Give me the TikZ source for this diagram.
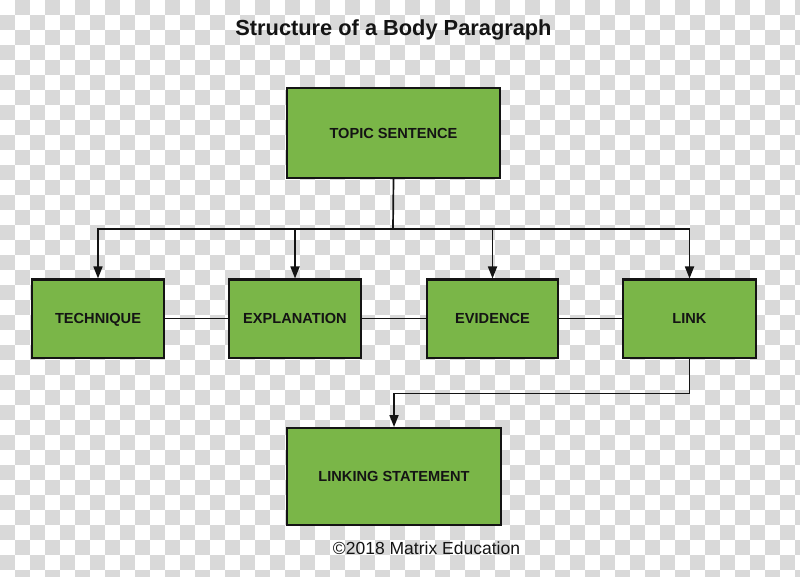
\documentclass[tikz,border=0pt]{standalone}
\usepackage{fontspec}
\setmainfont{Liberation Sans}
\usetikzlibrary{arrows.meta}
\definecolor{checkgray}{RGB}{217,217,217}
\definecolor{boxgreen}{RGB}{122,182,72}
\definecolor{ink}{RGB}{20,20,20}
\tikzset{
  box/.style={draw=ink, line width=2pt, fill=boxgreen, rectangle, inner sep=0pt,
    font=\fontsize{14.6}{17}\selectfont\bfseries, text=ink, text height=10.5pt, text depth=0pt},
  conn/.style={draw=ink, line width=1.7pt},
  arr/.style={conn, -{Triangle[length=12pt,width=9pt]}},
}
\begin{document}
\begin{tikzpicture}[x=1pt,y=-1pt]
\useasboundingbox (0,0) rectangle (800,577);
\begin{scope}
\clip (0,0) rectangle (800,577);
\fill[white] (0,0) rectangle (800,577);
\foreach \i in {0,...,53}{
  \foreach \j in {0,...,38}{
    \pgfmathtruncatemacro\s{mod(\i+\j,2)}
    \ifnum\s=1 \fill[checkgray] (\i*15,\j*15) rectangle ++(15,15); \fi
  }
}
\end{scope}
\node[anchor=base, font=\fontsize{21.8}{25}\selectfont\bfseries, text=ink] (title) at (393.5,36) {Structure of a Body Paragraph};
\node[box, minimum width=213pt, minimum height=90pt] (topic) at (393.5,133) {TOPIC SENTENCE};
\node[box, minimum width=132pt, minimum height=78pt] (technique) at (98,318.5) {TECHNIQUE};
\node[box, minimum width=132pt, minimum height=78pt] (explanation) at (295,318.5) {EXPLANATION};
\node[box, minimum width=131pt, minimum height=78pt] (evidence) at (492.5,318.5) {EVIDENCE};
\node[box, minimum width=133pt, minimum height=78pt] (link) at (689.5,318.5) {LINK};
\node[box, minimum width=214pt, minimum height=97pt] (linking) at (394,476.5) {LINKING STATEMENT};
\node[anchor=base, font=\fontsize{17.5}{20}\selectfont, text=ink] (copy) at (426.5,554) {©2018 Matrix Education};
\coordinate (j) at (393,229);
\draw[conn] (topic.south) -- (j);
\draw[arr] (j) -| (technique.north);
\draw[arr] (j) -| (explanation.north);
\draw[arr] (j) -| (evidence.north);
\draw[arr] (j) -| (link.north);
\draw[conn] (technique.east) -- (explanation.west);
\draw[conn] (explanation.east) -- (evidence.west);
\draw[conn] (evidence.east) -- (link.west);
\draw[arr] (link.south) -- ++(0,35) -| (linking.north);
\end{tikzpicture}
\end{document}
